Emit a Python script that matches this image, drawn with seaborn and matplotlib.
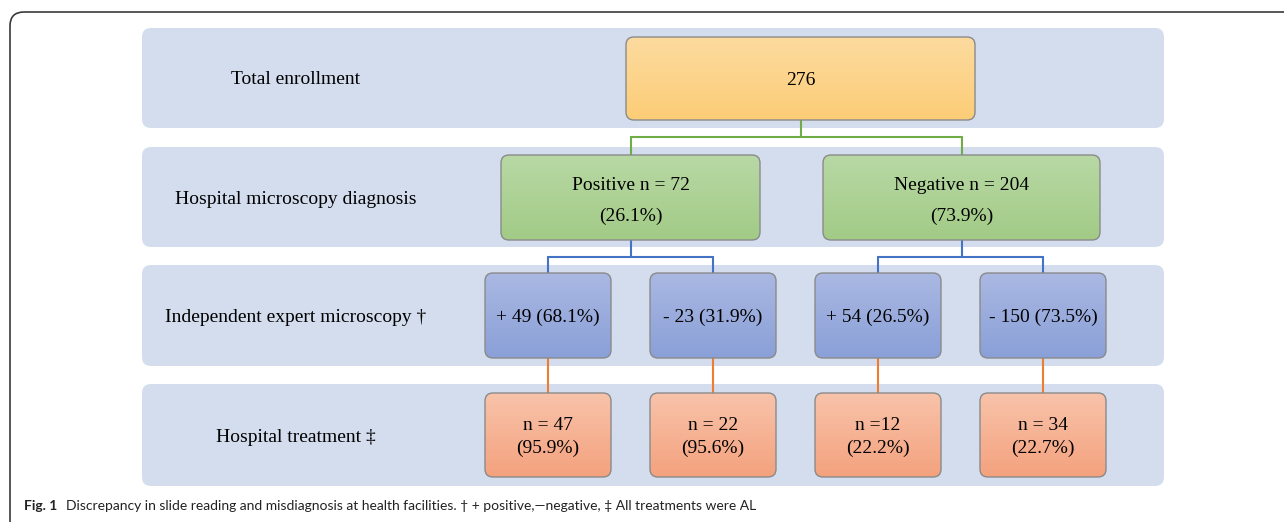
import matplotlib.pyplot as plt
import numpy as np
import seaborn as sns
from matplotlib import font_manager
from matplotlib.patches import FancyBboxPatch

# flowchart content
row_labels = [
    "Total enrollment",
    "Hospital microscopy diagnosis",
    "Independent expert microscopy †",
    "Hospital treatment ‡",
]
total_n = 276
diag_names = ["Positive", "Negative"]
diag_n = [72, 204]
diag_pct = [26.1, 73.9]
expert_sign = ["+", "-", "+", "-"]
expert_n = [49, 23, 54, 150]
expert_pct = [68.1, 31.9, 26.5, 73.5]
treat_fmt = ["n = {}", "n = {}", "n ={}", "n = {}"]
treat_n = [47, 22, 12, 34]
treat_pct = [95.9, 95.6, 22.2, 22.7]
caption_head = "Fig. 1"
caption_body = ("Discrepancy in slide reading and misdiagnosis at health facilities. "
                "† + positive,—negative, ‡ All treatments were AL")

sns.set_theme(style="white")
serif = ["Liberation Serif", "DejaVu Serif"]
installed = {f.name for f in font_manager.fontManager.ttflist}
cap_font = next((f for f in ["Liberation Sans Narrow", "DejaVu Sans Condensed", "Lato"] if f in installed), "DejaVu Sans")
FS = 14

# layout (pixels)
band_x = (142, 1164)
band_y = [(28, 128), (147, 247), (265, 366), (384, 486)]
top_box = (626, 975, 37, 120)
diag_box_x = [(501, 760), (823, 1100)]
leaf_x = [(485, 611), (650, 776), (815, 941), (980, 1106)]
diag_y = (155, 240)
expert_y = (273, 358)
treat_y = (393, 477)

col_band = "#d3ddee"
grad_orange = ("#fddb9f", "#fccd77")
grad_green = ("#b8d8a5", "#a2cb86")
grad_blue = ("#aab8e2", "#8aa0d8")
grad_salmon = ("#f8c3aa", "#f4a27e")
line_green, line_blue, line_orange = "#70ad47", "#4472c4", "#ed7d31"

fig = plt.figure(figsize=(12.84, 5.22), dpi=100)
ax = fig.add_axes([0, 0, 1, 1])
ax.set_axis_off()


def rounded(x0, x1, y0, y1, r, **kw):
    p = FancyBboxPatch((x0, y0), x1 - x0, y1 - y0,
                       boxstyle=f"round,pad=0,rounding_size={r}", **kw)
    ax.add_patch(p)
    return p


def grad_box(x0, x1, y0, y1, colors):
    p = rounded(x0, x1, y0, y1, 8, fc="none", ec="#8a8a8a", lw=1.0, zorder=4)
    c0 = np.array(plt.matplotlib.colors.to_rgb(colors[0]))
    c1 = np.array(plt.matplotlib.colors.to_rgb(colors[1]))
    t = np.linspace(0, 1, 64)[:, None, None]
    img = (1 - t) * c0 + t * c1
    im = ax.imshow(img, extent=(x0, x1, y1, y0), aspect="auto",
                   interpolation="bilinear", zorder=3)
    im.set_clip_path(p)


def elbow(xs, x_from, y0, y_mid, y1, color):
    ax.plot([x_from, x_from], [y0, y_mid], color=color, lw=1.5, zorder=2)
    ax.plot([xs[0], xs[-1]], [y_mid, y_mid], color=color, lw=1.5, zorder=2)
    for x in xs:
        ax.plot([x, x], [y_mid, y1], color=color, lw=1.5, zorder=2)


def label(x, y, s):
    ax.text(x, y, s, ha="center", va="center", fontsize=FS, family=serif,
            color="black", zorder=5)


# outer frame
rounded(10, 1400, 12, 700, 14, fc="none", ec="#3a3a3a", lw=1.2, zorder=1)

# bands with row labels
for (y0, y1), lab in zip(band_y, row_labels):
    rounded(band_x[0], band_x[1], y0, y1, 9, fc=col_band, ec="none", zorder=1)
    label(296, (y0 + y1) / 2 + 2, lab)

# top box
x0, x1, y0, y1 = top_box
grad_box(x0, x1, y0, y1, grad_orange)
label((x0 + x1) / 2, (y0 + y1) / 2 + 2, str(total_n))

# diagnosis boxes
diag_cx = [(a + b) / 2 for a, b in diag_box_x]
elbow(diag_cx, (x0 + x1) / 2, y1, 137, diag_y[0], line_green)
for (a, b), name, n, pct in zip(diag_box_x, diag_names, diag_n, diag_pct):
    grad_box(a, b, diag_y[0], diag_y[1], grad_green)
    label((a + b) / 2, 186, f"{name} n = {n}")
    label((a + b) / 2, 216, f"({pct}%)")

# expert boxes
leaf_cx = [(a + b) / 2 for a, b in leaf_x]
for i, cx in enumerate(diag_cx):
    elbow(leaf_cx[2 * i:2 * i + 2], cx, diag_y[1], 257, expert_y[0], line_blue)
for (a, b), s, n, pct in zip(leaf_x, expert_sign, expert_n, expert_pct):
    grad_box(a, b, expert_y[0], expert_y[1], grad_blue)
    label((a + b) / 2, (expert_y[0] + expert_y[1]) / 2 + 2, f"{s} {n} ({pct}%)")

# treatment boxes
for (a, b), fmt, n, pct in zip(leaf_x, treat_fmt, treat_n, treat_pct):
    cx = (a + b) / 2
    ax.plot([cx, cx], [expert_y[1], treat_y[0]], color=line_orange, lw=1.5, zorder=2)
    grad_box(a, b, treat_y[0], treat_y[1], grad_salmon)
    label(cx, 425, fmt.format(n))
    label(cx, 448, f"({pct}%)")

# caption
head = ax.text(24, 506, caption_head, ha="left", va="center", fontsize=10,
               fontweight="bold", family=cap_font, color="#222222")
ax.annotate(caption_body, xy=(1, 0), xycoords=head, xytext=(6, 0),
            textcoords="offset points", ha="left", va="bottom",
            fontsize=10, family=cap_font, color="#222222")

ax.set_xlim(0, 1284)
ax.set_ylim(522, 0)
fig.savefig("out.png", dpi=100)
